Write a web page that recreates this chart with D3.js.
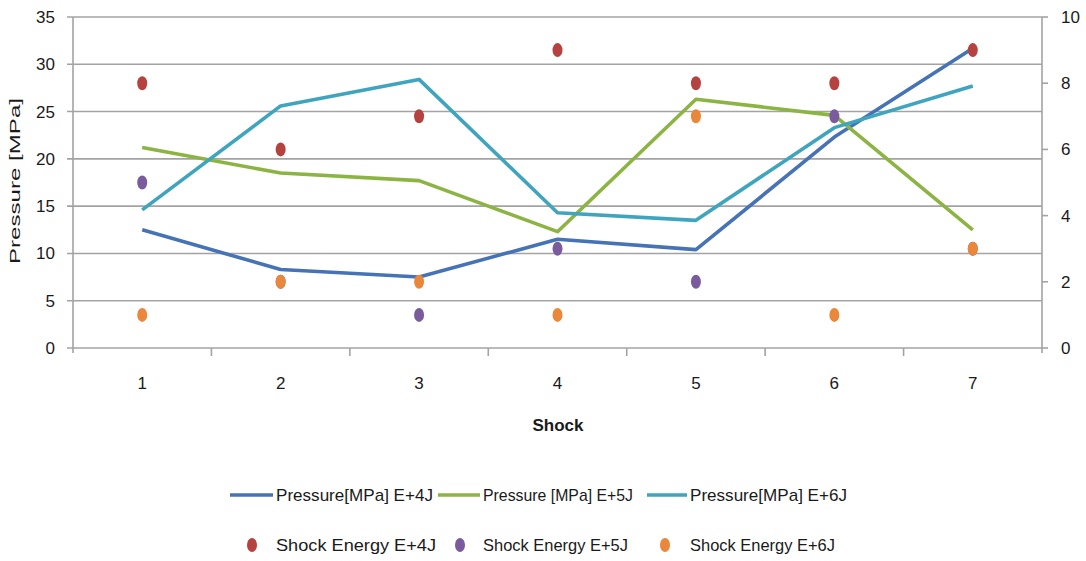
<!DOCTYPE html>
<html>
<head>
<meta charset="utf-8">
<script src="https://cdn.jsdelivr.net/npm/d3@7"></script>
<style>
  html, body { margin: 0; padding: 0; background: #fff; }
  svg text { font-family: "Liberation Sans", Arial, sans-serif; fill: #1a1a1a; }
</style>
</head>
<body>
<svg id="chart" width="1086" height="561"></svg>
<script>
// Shock numbers on the horizontal axis
const categories = [1, 2, 3, 4, 5, 6, 7];

// Pressure readings [MPa] per shock (left axis)
const pressureE4 = [12.5, 8.3, 7.5, 11.5, 10.4, 22.3, 31.7];
const pressureE5 = [21.2, 18.5, 17.7, 12.3, 26.3, 24.6, 12.5];
const pressureE6 = [14.6, 25.6, 28.4, 14.3, 13.5, 23.3, 27.7];

// Shock energy per shock (right axis)
const energyE4 = [8, 6, 7, 9, 8, 8, 9];
const energyE5 = [5, 2, 1, 3, 2, 7, 3];
const energyE6 = [1, 2, 2, 1, 7, 1, 3];

// Axis tick values
const leftTicks = [0, 5, 10, 15, 20, 25, 30, 35];
const rightTicks = [0, 2, 4, 6, 8, 10];

const lineSeries = [
  { name: "Pressure[MPa] E+4J", values: pressureE4, color: "#4673b6" },
  { name: "Pressure [MPa] E+5J", values: pressureE5, color: "#8bb443" },
  { name: "Pressure[MPa] E+6J", values: pressureE6, color: "#3fa5be" }
];
const pointSeries = [
  { name: "Shock Energy E+4J", values: energyE4, color: "#b6423f" },
  { name: "Shock Energy E+5J", values: energyE5, color: "#7a5b9d" },
  { name: "Shock Energy E+6J", values: energyE6, color: "#ea873a" }
];

const svg = d3.select("#chart");
const plot = { left: 73, right: 1042, top: 17, bottom: 348 };

const x = d3.scaleBand().domain(categories).range([plot.left, plot.right]).padding(0);
const cx = d => x(d) + x.bandwidth() / 2;
const yL = d3.scaleLinear().domain([0, 35]).range([plot.bottom, plot.top]);
const yR = d3.scaleLinear().domain([0, 10]).range([plot.bottom, plot.top]);

const gridColor = "#a3a3a3";

// Horizontal gridlines with left tick marks
svg.append("g").selectAll("line").data(leftTicks).join("line")
  .attr("x1", plot.left - 6).attr("x2", plot.right)
  .attr("y1", d => yL(d)).attr("y2", d => yL(d))
  .attr("stroke", gridColor).attr("stroke-width", 1.6);

// Left axis line
svg.append("line")
  .attr("x1", plot.left).attr("x2", plot.left)
  .attr("y1", plot.top).attr("y2", plot.bottom + 5)
  .attr("stroke", gridColor).attr("stroke-width", 1.6);

// Right axis line and ticks
svg.append("line")
  .attr("x1", plot.right).attr("x2", plot.right)
  .attr("y1", plot.top).attr("y2", plot.bottom + 5)
  .attr("stroke", gridColor).attr("stroke-width", 1.6);
svg.append("g").selectAll("line").data(rightTicks).join("line")
  .attr("x1", plot.right).attr("x2", plot.right + 6)
  .attr("y1", d => yR(d)).attr("y2", d => yR(d))
  .attr("stroke", gridColor).attr("stroke-width", 1.6);

// Category boundary ticks on the horizontal axis
const boundaries = categories.slice(1).map(c => x(c));
svg.append("g").selectAll("line").data(boundaries).join("line")
  .attr("x1", d => d).attr("x2", d => d)
  .attr("y1", plot.bottom).attr("y2", plot.bottom + 8)
  .attr("stroke", gridColor).attr("stroke-width", 1.6);

// Tick labels
svg.append("g").selectAll("text").data(leftTicks).join("text")
  .attr("x", 55).attr("y", d => yL(d)).attr("dy", "0.35em")
  .attr("text-anchor", "end").attr("font-size", 17)
  .text(d => d);
svg.append("g").selectAll("text").data(rightTicks).join("text")
  .attr("x", 1061).attr("y", d => yR(d)).attr("dy", "0.35em")
  .attr("text-anchor", "start").attr("font-size", 17)
  .text(d => d);
svg.append("g").selectAll("text").data(categories).join("text")
  .attr("x", d => cx(d)).attr("y", 383).attr("dy", "0.35em")
  .attr("text-anchor", "middle").attr("font-size", 17)
  .text(d => d);

// Axis titles
svg.append("text")
  .attr("x", 558).attr("y", 425).attr("dy", "0.35em")
  .attr("text-anchor", "middle").attr("font-size", 17).attr("font-weight", "bold")
  .text("Shock");
svg.append("text")
  .attr("transform", "translate(15,181) rotate(-90)")
  .attr("dy", "0.35em").attr("text-anchor", "middle").attr("font-size", 15)
  .attr("textLength", 166).attr("lengthAdjust", "spacingAndGlyphs")
  .text("Pressure [MPa]");

// Pressure lines
const line = d3.line().x((d, i) => cx(categories[i])).y(d => yL(d));
svg.append("g").selectAll("path").data(lineSeries).join("path")
  .attr("d", d => line(d.values))
  .attr("fill", "none").attr("stroke", d => d.color)
  .attr("stroke-width", 3.6).attr("stroke-linejoin", "round");

// Shock energy markers
pointSeries.forEach(s => {
  svg.append("g").selectAll("ellipse").data(s.values).join("ellipse")
    .attr("cx", (d, i) => cx(categories[i])).attr("cy", d => yR(d))
    .attr("rx", 5).attr("ry", 7).attr("fill", s.color);
});

// Legend: line entries
const legendLines = [
  { s: lineSeries[0], x1: 230, x2: 273, tx: 276, w: 157 },
  { s: lineSeries[1], x1: 438, x2: 480, tx: 483, w: 150 },
  { s: lineSeries[2], x1: 647, x2: 687, tx: 690, w: 157 }
];
const lg1 = svg.append("g");
legendLines.forEach(d => {
  lg1.append("line").attr("x1", d.x1).attr("x2", d.x2)
    .attr("y1", 495).attr("y2", 495)
    .attr("stroke", d.s.color).attr("stroke-width", 3.6);
  lg1.append("text").attr("x", d.tx).attr("y", 495).attr("dy", "0.35em")
    .attr("font-size", 17)
    .attr("textLength", d.w).attr("lengthAdjust", "spacingAndGlyphs")
    .text(d.s.name);
});

// Legend: marker entries
const legendPoints = [
  { s: pointSeries[0], x: 252, tx: 276, w: 160 },
  { s: pointSeries[1], x: 460, tx: 483, w: 145 },
  { s: pointSeries[2], x: 665, tx: 690, w: 145 }
];
const lg2 = svg.append("g");
legendPoints.forEach(d => {
  lg2.append("ellipse").attr("cx", d.x).attr("cy", 545)
    .attr("rx", 5).attr("ry", 7).attr("fill", d.s.color);
  lg2.append("text").attr("x", d.tx).attr("y", 545).attr("dy", "0.35em")
    .attr("font-size", 17)
    .attr("textLength", d.w).attr("lengthAdjust", "spacingAndGlyphs")
    .text(d.s.name);
});
</script>
</body>
</html>
